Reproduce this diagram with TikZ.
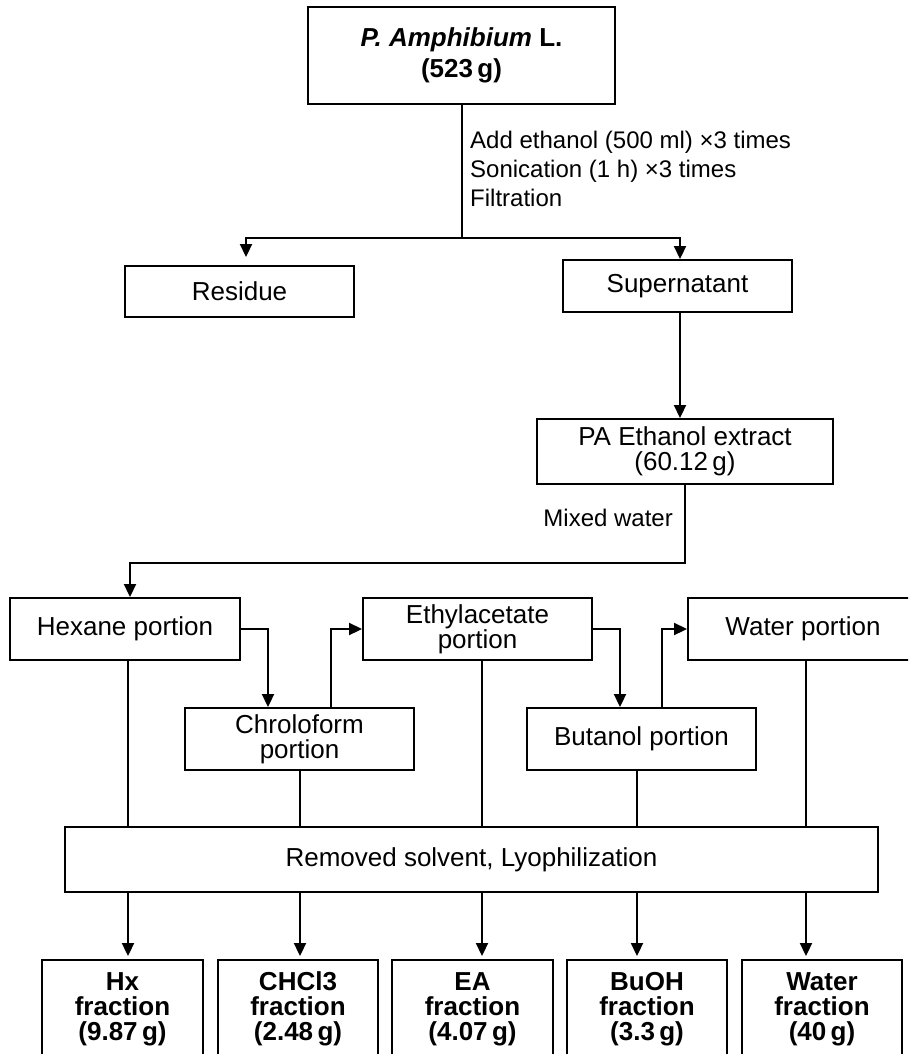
\documentclass[tikz,border=0pt]{standalone}
\usepackage{fontspec}
\setmainfont{Liberation Sans}
\usetikzlibrary{arrows.meta,calc}
\begin{document}
\begin{tikzpicture}[x=1pt,y=-1pt,
  box/.style={draw,line width=1.9pt,rectangle,inner sep=0pt,align=center,
              font=\fontsize{26}{25}\selectfont},
  fracbox/.style={box,minimum height=98pt,font=\fontsize{26}{25}\selectfont\bfseries},
  conn/.style={line width=1.9pt},
  arr/.style={conn,-{Triangle[length=13pt,width=12pt]}},
  lbl/.style={inner sep=0pt,font=\fontsize{24}{29}\selectfont}]
\useasboundingbox (0,0) rectangle (908,1054);
\clip (0,0) rectangle (908,1054);

% nodes
\node[box,minimum width=307pt,minimum height=97pt,font=\fontsize{26}{31}\selectfont\bfseries]
  (top) at (461.5,55.5) {\textit{P. Amphibium} L.\\(523\,g)};
\node[box,minimum width=229pt,minimum height=51pt] (residue) at (239.5,291.5) {Residue};
\node[box,minimum width=229pt,minimum height=52pt] (super) at (677.5,286) {Supernatant};
\node[box,minimum width=296pt,minimum height=65pt] (pa) at (685,451.5) {PA Ethanol extract\\(60.12\,g)};
\node[box,minimum width=230pt,minimum height=62pt] (hexane) at (125,629) {Hexane portion};
\node[box,minimum width=229pt,minimum height=62pt] (ethyl) at (477.5,629) {Ethylacetate\\portion};
\node[box,minimum width=230pt,minimum height=62pt] (water) at (803,629) {Water portion};
\node[box,minimum width=229pt,minimum height=62pt] (chloro) at (299.5,739) {Chroloform\\portion};
\node[box,minimum width=229pt,minimum height=62pt] (butanol) at (641.5,739) {Butanol portion};
\node[box,minimum width=813pt,minimum height=65pt] (removed) at (471.5,859.5) {Removed solvent, Lyophilization};

\node[fracbox,minimum width=161pt] (hx) at (122.5,1009) {Hx\\fraction\\(9.87\,g)};
\node[fracbox,minimum width=160pt] (chcl) at (298,1009) {CHCl3\\fraction\\(2.48\,g)};
\node[fracbox,minimum width=161pt] (ea) at (472.5,1009) {EA\\fraction\\(4.07\,g)};
\node[fracbox,minimum width=160pt] (buoh) at (647,1009) {BuOH\\fraction\\(3.3\,g)};
\node[fracbox,minimum width=160pt] (wf) at (822,1009) {Water\\fraction\\(40\,g)};

% labels
\node[lbl,anchor=west,align=left] (steps) at (470,169)
  {Add ethanol (500 ml) ×3 times\\Sonication (1 h) ×3 times\\Filtration};
\node[lbl,anchor=east] (mixed) at (673,518) {Mixed water};

% top split
\coordinate (split) at ($(top.south)+(0.5,133)$);
\draw[conn] ($(top.south)+(0.5,0)$) -- (split);
\draw[arr] (split) -| ($(residue.north)+(6.5,-8)$);
\draw[arr] (split) -| ($(super.north)+(2.5,0)$);

% supernatant -> extract
\coordinate (s1) at ($(super.south)+(2.5,0)$);
\draw[arr] (s1) -- (s1 |- pa.north);

% extract -> hexane
\draw[arr] (pa.south) -- ++(0,78) -| ($(hexane.north)+(5,0)$);

% solvent chain
\draw[arr] (hexane.east) -| ($(chloro.north)+(-31.5,0)$);
\draw[arr] ($(chloro.north)+(31.5,0)$) |- (ethyl.west);
\draw[arr] (ethyl.east) -| ($(butanol.north)+(-21.5,0)$);
\draw[arr] ($(butanol.north)+(20.5,0)$) |- (water.west);

% down to removed solvent and fractions
\coordinate (c1) at ($(hexane.south)+(3,0)$);
\coordinate (c2) at ($(chloro.south)+(0.5,0)$);
\coordinate (c3) at ($(ethyl.south)+(4.5,0)$);
\coordinate (c4) at ($(butanol.south)+(-4.5,0)$);
\coordinate (c5) at ($(water.south)+(3,0)$);
\foreach \c/\f in {c1/hx,c2/chcl,c3/ea,c4/buoh,c5/wf}{
  \draw[conn] (\c) -- (\c |- removed.north);
  \draw[arr] (\c |- removed.south) -- ($(\c |- \f.north)+(0,-3)$);
}
\end{tikzpicture}
\end{document}
